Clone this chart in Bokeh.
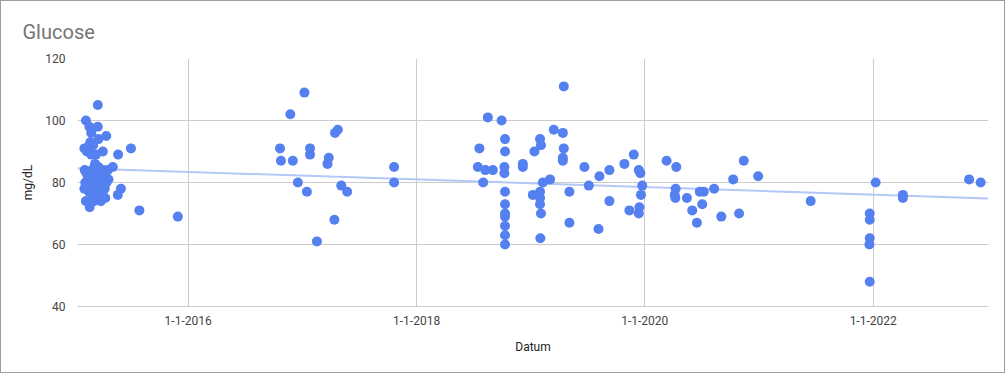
import numpy as np
import pandas as pd
from bokeh.plotting import figure
from bokeh.models import FixedTicker, Range1d, ColumnDataSource
from bokeh.embed import file_html
from bokeh.resources import INLINE

title_text = "Glucose"
x_label = "Datum"
y_label = "mg/dL"

dates = [
    "2015-02-03", "2015-02-04", "2015-02-03", "2015-02-08", "2015-02-08", "2015-02-11",
    "2015-02-14", "2015-02-19", "2015-02-19", "2015-02-20", "2015-02-22", "2015-02-25",
    "2015-02-25", "2015-02-27", "2015-03-01", "2015-03-03", "2015-03-03", "2015-03-05",
    "2015-03-07", "2015-03-09", "2015-03-12", "2015-03-12", "2015-03-14", "2015-03-16",
    "2015-03-18", "2015-03-18", "2015-03-20", "2015-03-20", "2015-03-22", "2015-03-24",
    "2015-03-26", "2015-03-28", "2015-03-30", "2015-04-03", "2015-04-05", "2015-04-07",
    "2015-04-09", "2015-04-11", "2015-04-14", "2015-04-15", "2015-04-19", "2015-04-21",
    "2015-05-05", "2015-05-21", "2015-05-22", "2015-05-31", "2015-07-02", "2015-07-29",
    "2015-11-29",
    "2015-02-06", "2015-02-10", "2015-02-13", "2015-02-16", "2015-02-18", "2015-02-23",
    "2015-02-26", "2015-03-02", "2015-03-04", "2015-03-08", "2015-03-10", "2015-03-13",
    "2015-03-17", "2015-03-21", "2015-03-25", "2015-04-01", "2015-04-08", "2015-04-12",
    "2016-10-21", "2016-10-24", "2016-11-23", "2016-12-01", "2016-12-17", "2017-01-07",
    "2017-01-15", "2017-01-25", "2017-01-25", "2017-02-16", "2017-03-22", "2017-03-26",
    "2017-04-13", "2017-04-15", "2017-04-24", "2017-05-05", "2017-05-24", "2017-10-21",
    "2017-10-21",
    "2018-07-16", "2018-07-21", "2018-08-02", "2018-08-09", "2018-08-17", "2018-09-02",
    "2018-09-30", "2018-10-09", "2018-10-09", "2018-10-11", "2018-10-11", "2018-10-11",
    "2018-10-11", "2018-10-11", "2018-10-11", "2018-10-11", "2018-10-11", "2018-10-11",
    "2018-12-07", "2018-12-07", "2019-01-08", "2019-01-13", "2019-01-31", "2019-01-31",
    "2019-01-31", "2019-01-31", "2019-02-01", "2019-02-03", "2019-02-03", "2019-02-09",
    "2019-03-04", "2019-03-16", "2019-04-14", "2019-04-14", "2019-04-14", "2019-04-17",
    "2019-04-17", "2019-05-05", "2019-05-05", "2019-06-22", "2019-07-06", "2019-08-06",
    "2019-08-09", "2019-09-10", "2019-09-10", "2019-10-28", "2019-11-13", "2019-11-27",
    "2019-12-13", "2019-12-13", "2019-12-15", "2019-12-18", "2019-12-20", "2019-12-24",
    "2020-03-11", "2020-04-06", "2020-04-08", "2020-04-09", "2020-04-11", "2020-05-15",
    "2020-06-01", "2020-06-16", "2020-06-25", "2020-07-03", "2020-07-08", "2020-08-10",
    "2020-09-02", "2020-10-10", "2020-10-29", "2020-11-13", "2020-12-29",
    "2021-06-15", "2021-12-21", "2021-12-21", "2021-12-21", "2021-12-20", "2021-12-21",
    "2022-01-09", "2022-04-06", "2022-04-06", "2022-11-04", "2022-12-11",
]

glucose = [
    91, 84, 78, 100, 74, 90,
    82, 98, 92, 72, 93, 96,
    89, 84, 80, 76, 92, 74,
    83, 86, 89, 81, 78, 75,
    105, 98, 94, 85, 80, 77,
    83, 74, 79, 90, 84, 82,
    78, 75, 95, 80, 84, 81,
    85, 76, 89, 78, 91, 71,
    69,
    80, 83, 79, 81, 77, 82,
    79, 83, 80, 78, 82, 76,
    81, 79, 81, 80, 79, 83,
    91, 87, 102, 87, 80, 109,
    77, 91, 89, 61, 86, 88,
    68, 96, 97, 79, 77, 85,
    80,
    85, 91, 80, 84, 101, 84,
    100, 85, 83, 94, 90, 77,
    73, 70, 69, 66, 63, 60,
    86, 85, 76, 90, 94, 77,
    75, 73, 62, 92, 70, 80,
    81, 97, 96, 88, 87, 111,
    91, 77, 67, 85, 79, 65,
    82, 84, 74, 86, 71, 89,
    84, 70, 72, 83, 76, 79,
    87, 76, 75, 78, 85, 75,
    71, 67, 77, 73, 77, 78,
    69, 81, 70, 87, 82,
    74, 70, 68, 62, 60, 48,
    80, 76, 75, 81, 80,
]

x_tick_dates = ["2016-01-01", "2018-01-01", "2020-01-01", "2022-01-01"]
x_tick_labels = ["1-1-2016", "1-1-2018", "1-1-2020", "1-1-2022"]
y_ticks = [40, 60, 80, 100, 120]
x_start, x_end = "2015-01-12", "2023-01-05"
y_start, y_end = 40, 120


def to_ms(s):
    return pd.Timestamp(s).value / 1e6


x_ms = np.array([to_ms(d) for d in dates])
y_vals = np.array(glucose, dtype=float)
src = ColumnDataSource(dict(x=x_ms, y=y_vals))

xs, xe = to_ms(x_start), to_ms(x_end)
slope, intercept = np.polyfit(x_ms, y_vals, 1)
trend_x = [xs, xe]
trend_y = [slope * xs + intercept, slope * xe + intercept]

FONT = "Roboto"

p = figure(width=1005, height=373, x_axis_type="datetime",
           x_range=Range1d(xs, xe), y_range=Range1d(y_start, y_end),
           output_backend="svg", toolbar_location=None, title=title_text,
           min_border_left=76, min_border_right=18, min_border_top=57, min_border_bottom=68)
p.styles = {"border": "1px solid #9e9e9e"}
p.outline_line_color = None
p.background_fill_color = "white"
p.border_fill_color = "white"

p.title.text_font = FONT
p.title.text_font_size = "20px"
p.title.text_font_style = "normal"
p.title.text_color = "#757575"
p.title.align = "left"
p.title.offset = -55
p.title.standoff = 30

p.line(trend_x, trend_y, line_color="#b3c8f8", line_width=2)
p.scatter("x", "y", source=src, size=10, color="#5580f0", line_color=None)

# x axis
tick_ms = [to_ms(d) for d in x_tick_dates]
p.xaxis.ticker = FixedTicker(ticks=tick_ms)
p.xgrid.ticker = FixedTicker(ticks=tick_ms)
p.xaxis.major_label_overrides = {t: lab for t, lab in zip(tick_ms, x_tick_labels)}
p.xaxis.axis_label = x_label
p.xaxis.major_tick_line_color = None
p.xaxis.minor_tick_line_color = None
p.xaxis.axis_line_color = "#cccccc"
p.xaxis.major_label_standoff = 3
p.xaxis.axis_label_standoff = 12

# y axis
p.yaxis.ticker = FixedTicker(ticks=y_ticks)
p.ygrid.ticker = FixedTicker(ticks=y_ticks)
p.yaxis.axis_label = y_label
p.yaxis.major_tick_line_color = None
p.yaxis.minor_tick_line_color = None
p.yaxis.axis_line_color = None
p.yaxis.major_label_standoff = 6
p.yaxis.axis_label_standoff = 7

for ax in (p.xaxis, p.yaxis):
    ax.major_label_text_font = FONT
    ax.major_label_text_font_size = "12px"
    ax.major_label_text_color = "#444444"
    ax.axis_label_text_font = FONT
    ax.axis_label_text_font_size = "12px"
    ax.axis_label_text_color = "#222222"
    ax.axis_label_text_font_style = "normal"

p.xgrid.grid_line_color = "#cccccc"
p.ygrid.grid_line_color = "#cccccc"

open("out.html", "w").write(file_html(p, INLINE))
